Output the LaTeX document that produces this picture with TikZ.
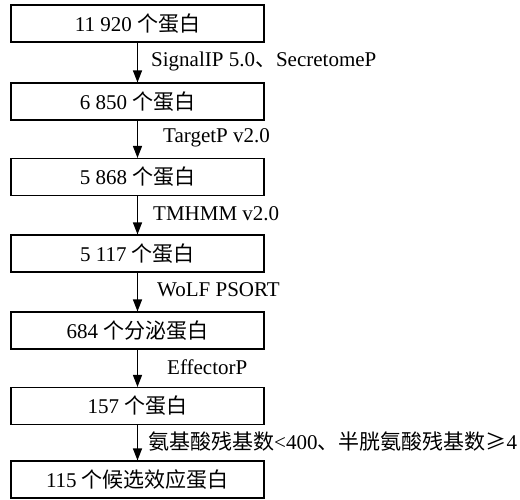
\documentclass[tikz,border=0pt]{standalone}
\usepackage{fontspec}
\setmainfont{Liberation Serif}
\newfontfamily\cjk{Noto Sans CJK SC}
\usetikzlibrary{arrows.meta}
\begin{document}
\begin{tikzpicture}[x=1pt,y=-1pt,
  box/.style={draw,line width=1.1pt,minimum width=253pt,minimum height=37pt,inner sep=0pt,font=\fontsize{21}{25}\selectfont},
  lab/.style={anchor=west,inner sep=0pt,font=\fontsize{21}{25}\selectfont},
  arr/.style={line width=1.2pt,-{Triangle[length=12pt,width=9pt]}}]
\useasboundingbox (0,0) rectangle (520,499);
\node[box] (b1) at (137.5,23.5) {11 920 {\cjk 个蛋白}};
\node[box] (b2) at (137.5,101.5) {6 850 {\cjk 个蛋白}};
\node[box] (b3) at (137.5,177) {5 868 {\cjk 个蛋白}};
\node[box] (b4) at (137.5,253.5) {5 117 {\cjk 个蛋白}};
\node[box] (b5) at (137.5,330.5) {684 {\cjk 个分泌蛋白}};
\node[box] (b6) at (137.5,406) {157 {\cjk 个蛋白}};
\node[box] (b7) at (137.5,479.5) {115 {\cjk 个候选效应蛋白}};
\draw[arr] (b1) -- (b2);
\draw[arr] (b2) -- (b3);
\draw[arr] (b3) -- (b4);
\draw[arr] (b4) -- (b5);
\draw[arr] (b5) -- (b6);
\draw[arr] (b6) -- (b7);
\node[lab] (l1) at (151,61) {SignalIP 5.0{\cjk 、}SecretomeP};
\node[lab] (l2) at (163,138) {TargetP v2.0};
\node[lab] (l3) at (153,214) {TMHMM v2.0};
\node[lab] (l4) at (157,290) {WoLF PSORT};
\node[lab] (l5) at (167,367) {EffectorP};
\node[lab] (l6) at (148,442) {{\cjk 氨基酸残基数}<400{\cjk 、半胱氨酸残基数≥}4};
\end{tikzpicture}
\end{document}
